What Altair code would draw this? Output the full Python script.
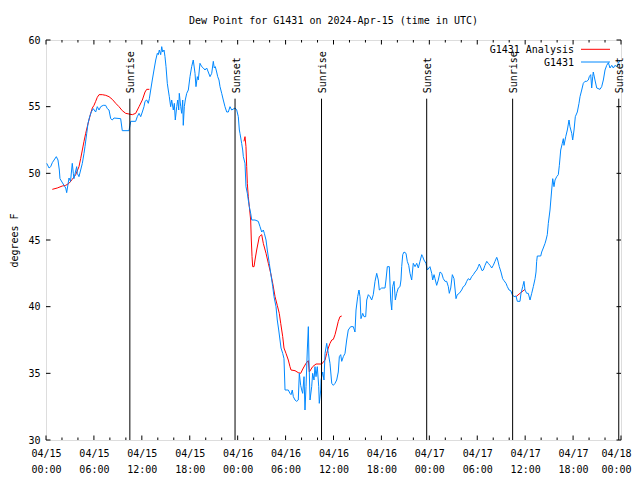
import altair as alt
import pandas as pd

# ---------------- data ----------------
blue_hours = [0.09, 0.38, 0.59, 0.79, 1.29, 1.50, 1.67, 1.75, 2.25, 2.47, 2.59, 2.88, 3.07, 3.29, 3.42, 3.50, 3.84, 3.92, 4.13, 4.34,
              4.55, 4.76, 4.88, 5.10, 5.26, 5.47, 5.67, 5.92, 6.22, 6.42, 6.64, 6.85, 7.17, 7.47, 7.68, 7.89, 8.10, 8.30, 8.51, 9.35,
              9.55, 10.39, 10.52, 10.61, 11.23, 11.43, 11.65, 11.86, 12.06, 12.27, 12.40, 12.61, 12.81, 12.94, 13.11, 13.31, 13.52, 13.74, 13.94, 14.06,
              14.19, 14.36, 14.49, 14.61, 14.78, 14.90, 15.03, 15.19, 15.31, 15.44, 15.61, 15.74, 15.94, 16.07, 16.19, 16.37, 16.49, 16.62, 16.69, 16.87,
              16.99, 17.12, 17.19, 17.32, 17.44, 17.62, 17.82, 18.03, 18.24, 18.44, 18.66, 18.78, 18.95, 19.07, 19.28, 19.50, 19.70, 19.91, 20.12, 20.32,
              20.54, 20.75, 20.95, 21.07, 21.20, 21.37, 21.50, 21.66, 21.79, 22.00, 22.20, 22.41, 22.63, 22.83, 23.04, 23.25, 23.67, 23.88, 24.08, 24.21,
              24.29, 24.50, 24.63, 24.71, 24.92, 25.04, 25.21, 25.33, 25.46, 25.63, 25.76, 26.17, 26.58, 26.80, 27.01, 27.21, 27.34, 27.55, 27.71, 27.96,
              28.14, 28.39, 28.55, 28.80, 28.96, 29.14, 29.30, 29.43, 29.64, 29.80, 29.93, 30.34, 30.55, 30.68, 30.84, 30.97, 31.18, 31.39, 31.59, 31.72,
              31.89, 32.02, 32.14, 32.31, 32.43, 32.56, 32.72, 32.85, 32.93, 33.06, 33.27, 33.39, 33.56, 33.68, 33.81, 33.97, 34.15, 34.22, 34.40, 34.44,
              34.65, 34.81, 34.94, 35.15, 35.35, 35.56, 35.78, 35.98, 36.19, 36.40, 36.60, 36.73, 36.90, 37.03, 37.23, 37.44, 37.65, 37.85, 38.15, 38.48,
              38.69, 38.82, 39.03, 39.19, 39.32, 39.44, 39.66, 39.82, 40.03, 40.16, 40.36, 40.57, 40.78, 40.98, 41.20, 41.41, 41.61, 41.74, 42.03, 42.45,
              42.57, 42.74, 42.99, 43.16, 43.29, 43.41, 43.58, 43.74, 43.91, 44.11, 44.33, 44.45, 44.54, 44.67, 44.83, 45.08, 45.24, 45.42, 45.58, 45.79,
              45.99, 46.21, 46.42, 46.62, 46.83, 47.05, 47.17, 47.33, 47.58, 47.75, 48.08, 48.30, 48.42, 48.59, 48.71, 48.92, 49.12, 49.34, 49.55, 49.75,
              49.96, 50.17, 50.38, 50.50, 50.68, 50.88, 51.09, 51.34, 51.50, 51.75, 52.05, 52.25, 52.47, 52.68, 52.88, 53.09, 53.30, 53.51, 53.72, 53.93,
              54.13, 54.26, 54.47, 54.60, 54.76, 54.97, 55.19, 55.38, 55.60, 55.81, 56.01, 56.22, 56.44, 56.56, 56.76, 56.97, 57.18, 57.35, 57.60, 57.77,
              57.98, 58.19, 58.39, 58.60, 58.85, 59.02, 59.35, 59.48, 59.69, 59.85, 59.98, 60.19, 60.39, 60.61, 60.82, 61.02, 61.24, 61.36, 61.44, 61.52,
              61.95, 62.07, 62.27, 62.49, 62.61, 62.77, 62.90, 63.11, 63.32, 63.45, 63.61, 63.74, 63.95, 64.15, 64.28, 64.45, 64.65, 64.78, 64.86, 65.08,
              65.28, 65.49, 65.61, 65.83, 65.95, 66.12, 66.28, 66.53, 66.74, 66.87, 67.08, 67.28, 67.49, 67.70, 67.91, 68.03, 68.21, 68.33, 68.46, 68.53,
              68.74, 68.96, 69.37, 69.58, 69.79, 70.00, 70.21, 70.42, 70.62, 70.84, 71.04, 71.25, 71.46, 71.66, 71.88]
blue_values = [50.75, 50.4, 50.5, 50.8, 51.25, 51.0, 50.25, 49.6, 49.1, 48.9, 48.55, 49.65, 49.4, 50.75, 50.0, 49.6, 50.5, 50.0, 49.75, 50.25,
               50.75, 51.5, 52.0, 53.0, 53.75, 54.25, 54.6, 54.85, 54.6, 55.0, 54.75, 55.0, 55.1, 55.1, 54.85, 54.75, 54.1, 54.0, 54.15, 54.1,
               53.2, 53.2, 53.6, 53.9, 53.9, 54.25, 54.5, 54.25, 54.6, 55.0, 55.4, 55.5, 55.25, 55.6, 56.25, 57.0, 57.75, 58.5, 59.0, 58.9,
               59.25, 58.9, 59.5, 59.1, 59.25, 58.75, 58.0, 56.75, 56.25, 55.75, 55.0, 55.5, 54.75, 55.25, 54.0, 55.0, 55.5, 54.75, 56.0, 55.0,
               54.5, 55.5, 53.6, 55.0, 55.5, 56.0, 56.25, 57.25, 58.0, 58.5, 57.5, 56.5, 57.25, 57.0, 58.25, 58.0, 57.9, 57.75, 57.9, 57.6,
               57.25, 57.5, 58.4, 57.9, 58.0, 57.6, 57.25, 57.0, 56.5, 56.0, 55.5, 55.0, 54.6, 54.6, 55.0, 54.75, 54.9, 54.75, 54.25, 53.25,
               53.0, 52.25, 51.75, 51.25, 50.75, 49.0, 48.5, 48.0, 47.5, 47.0, 46.5, 46.5, 46.4, 46.0, 45.6, 45.75, 45.5, 45.0, 44.25, 43.25,
               42.5, 41.5, 40.75, 40.0, 39.0, 38.25, 37.5, 36.9, 36.5, 36.1, 33.75, 33.75, 33.5, 33.4, 33.75, 33.25, 33.0, 32.9, 33.0, 35.0,
               34.1, 33.75, 33.5, 34.75, 32.25, 34.0, 36.75, 38.5, 36.0, 33.0, 34.0, 35.0, 34.5, 35.5, 34.75, 35.5, 34.0, 32.75, 33.75, 34.5,
               35.1, 34.5, 36.5, 37.25, 36.5, 35.75, 34.25, 34.1, 34.25, 34.5, 35.1, 36.25, 36.4, 35.9, 36.25, 36.5, 37.5, 38.25, 38.5, 38.5,
               38.1, 39.75, 40.75, 41.25, 40.75, 39.1, 39.5, 39.25, 39.25, 40.5, 40.9, 40.75, 40.5, 40.9, 41.9, 42.5, 42.0, 41.25, 41.4, 41.4,
               42.0, 43.0, 43.0, 40.5, 39.75, 41.5, 41.9, 40.5, 41.0, 41.4, 41.5, 42.0, 43.0, 43.9, 44.1, 44.0, 43.4, 43.1, 42.5, 42.0,
               43.25, 43.0, 43.25, 42.9, 43.4, 43.9, 43.75, 43.5, 43.25, 42.75, 43.0, 42.5, 42.0, 42.4, 42.1, 41.6, 42.0, 42.6, 42.5, 42.1,
               41.9, 41.9, 41.5, 41.0, 41.4, 42.4, 42.1, 40.6, 40.9, 41.0, 41.25, 41.5, 41.6, 41.9, 42.1, 42.0, 42.25, 42.4, 42.6, 42.75,
               43.0, 43.2, 42.9, 42.7, 42.75, 43.1, 43.4, 43.25, 43.1, 42.9, 43.1, 43.4, 43.7, 43.5, 43.0, 42.6, 42.1, 41.95, 41.75, 41.5,
               41.25, 41.2, 40.9, 40.75, 40.8, 40.4, 40.4, 41.0, 41.5, 41.9, 41.25, 41.0, 41.0, 40.5, 41.0, 41.5, 42.1, 42.6, 43.4, 43.8,
               43.8, 44.1, 44.4, 44.75, 45.0, 45.4, 46.25, 47.25, 48.75, 49.6, 49.0, 49.5, 49.75, 49.9, 50.6, 51.75, 52.25, 52.6, 52.1, 52.75,
               53.25, 54.0, 53.5, 53.0, 52.5, 53.25, 54.25, 54.6, 55.25, 55.75, 56.25, 56.75, 56.9, 56.9, 57.0, 57.25, 57.4, 56.4, 57.25, 57.6,
               57.0, 56.4, 56.3, 56.5, 57.0, 57.75, 58.1, 58.3, 57.9, 58.1, 57.9, 58.1, 58.0, 58.25, 58.5]

red_hours = [0.79, 1.41, 2.04, 2.47, 2.88, 3.29, 3.72, 4.13, 4.34, 4.55, 4.76, 4.97, 5.17, 5.38, 5.60, 5.80, 6.01, 6.22, 6.42, 6.64,
             7.05, 7.48, 7.89, 8.30, 8.73, 9.14, 9.55, 9.98, 10.39, 10.81, 11.23, 11.65, 12.06, 12.40, 12.61, 12.94,
             24.79, 24.92, 25.04, 25.13, 25.21, 25.33, 25.46, 25.63, 25.71, 25.80, 25.88, 26.05, 26.17, 26.38, 26.71, 27.01, 27.21, 27.55, 27.84, 28.14,
             28.39, 28.68, 28.96, 29.21, 29.39, 29.64, 29.80, 30.05, 30.34, 30.55, 30.68, 31.18, 31.59, 31.89, 32.22, 32.56, 32.85, 32.97, 33.39, 33.81,
             34.52, 34.94, 35.15, 35.35, 35.56, 35.78, 35.98, 36.19, 36.40, 36.60, 36.81, 37.03,
             58.85, 59.35, 59.98]
red_values = [48.8, 48.9, 49.05, 49.1, 49.25, 49.55, 49.9, 50.5, 51.1, 51.75, 52.4, 53.0, 53.5, 54.0, 54.5, 54.9, 55.1, 55.4, 55.7, 55.9,
              55.9, 55.85, 55.75, 55.55, 55.25, 55.0, 54.7, 54.5, 54.45, 54.4, 54.5, 55.0, 55.5, 56.1, 56.3, 56.3,
              52.4, 52.75, 52.0, 50.5, 49.25, 48.25, 47.5, 46.5, 45.0, 43.75, 43.0, 43.0, 43.5, 44.25, 45.25, 45.4, 44.75, 44.0, 43.25, 42.5,
              41.75, 40.75, 40.1, 39.5, 38.75, 37.75, 36.9, 36.5, 36.0, 35.5, 35.25, 35.2, 35.05, 35.0, 35.4, 35.75, 35.95, 35.1, 35.5, 35.7,
              35.7, 36.0, 36.5, 36.9, 37.25, 37.5, 37.55, 37.9, 38.4, 38.9, 39.25, 39.3,
              40.75, 41.0, 41.3]
red_segments = [1] * 36 + [2] * 52 + [3] * 3

event_hours = [10.50, 23.67, 34.50, 47.67, 58.43, 71.72]
event_labels = ["Sunrise", "Sunset", "Sunrise", "Sunset", "Sunrise", "Sunset"]
event_top = 55.6
event_label_pos = 56.0

x_major_ticks = list(range(0, 73, 6))
x_minor_ticks = [h for h in range(0, 73, 2) if h % 6 != 0]
y_ticks = [30, 35, 40, 45, 50, 55, 60]

series_names = ["G1431 Analysis", "G1431"]
series_colors = ["#ff0000", "#0088ff"]

# ---------------- chart ----------------
FONT = "DejaVu Sans Mono"
W, H = 575, 400

blue_df = pd.DataFrame({"hour": blue_hours, "value": blue_values})
red_df = pd.DataFrame({"hour": red_hours, "value": red_values, "seg": red_segments})
ev_df = pd.DataFrame({"hour": event_hours, "label": event_labels,
                      "top": [event_top] * len(event_hours), "bottom": [30] * len(event_hours),
                      "lpos": [event_label_pos] * len(event_hours)})
xmaj_df = pd.DataFrame({"hour": x_major_ticks})
xmin_df = pd.DataFrame({"hour": x_minor_ticks})
y_df = pd.DataFrame({"value": y_ticks})

x_scale = alt.Scale(domain=[0, 72], nice=False, zero=False)
y_scale = alt.Scale(domain=[30, 60], nice=False, zero=False)

x_axis = alt.Axis(
    values=x_major_ticks, ticks=False, domain=False, grid=False, title=None,
    labelExpr="['04/' + (15 + floor(datum.value / 24)), ((datum.value % 24) < 10 ? '0' : '') + (datum.value % 24) + ':00']",
    labelFont=FONT, labelFontSize=10, labelColor="black", labelPadding=8, labelLineHeight=16,
    labelFlush=False, labelOverlap=False, labelBound=False, labelBaseline="top",
    labelOffset={"condition": {"test": "datum.value == 72", "value": -5}, "value": 0},
)
y_axis = alt.Axis(
    values=y_ticks, ticks=False, domain=False, grid=False, title="degrees F",
    titleFont=FONT, titleFontSize=10, titleFontWeight="normal", titleColor="black", titlePadding=8,
    labelFont=FONT, labelFontSize=10, labelColor="black", labelPadding=6,
)

X = alt.X("hour:Q", scale=x_scale, axis=x_axis)
Y = alt.Y("value:Q", scale=y_scale, axis=y_axis)

red_line = alt.Chart(red_df).mark_line(strokeWidth=1, color=series_colors[0]).encode(
    x=X, y=Y, detail="seg:N", order="hour:Q")
blue_line = alt.Chart(blue_df).mark_line(strokeWidth=1, color=series_colors[1]).encode(
    x="hour:Q", y="value:Q", order="hour:Q")

ev_rules = alt.Chart(ev_df).mark_rule(color="black", strokeWidth=1).encode(
    x="hour:Q", y="top:Q", y2="bottom:Q")
ev_text = alt.Chart(ev_df).mark_text(angle=270, align="left", baseline="middle", font=FONT,
                                      fontSize=10, color="black", dy=1.5).encode(
    x="hour:Q", y="lpos:Q", text="label:N")

tick_major_b = alt.Chart(xmaj_df).mark_rule(color="black").encode(x="hour:Q", y=alt.value(H), y2=alt.value(H - 4.5))
tick_major_t = alt.Chart(xmaj_df).mark_rule(color="black").encode(x="hour:Q", y=alt.value(0), y2=alt.value(4.5))
tick_minor_b = alt.Chart(xmin_df).mark_rule(color="black").encode(x="hour:Q", y=alt.value(H), y2=alt.value(H - 2.5))
tick_minor_t = alt.Chart(xmin_df).mark_rule(color="black").encode(x="hour:Q", y=alt.value(0), y2=alt.value(2.5))
tick_y_l = alt.Chart(y_df).mark_rule(color="black").encode(y="value:Q", x=alt.value(0), x2=alt.value(4.5))
tick_y_r = alt.Chart(y_df).mark_rule(color="black").encode(y="value:Q", x=alt.value(W), x2=alt.value(W - 4.5))

one = pd.DataFrame({"k": [0]})
leg_items = []
for i, (name, col) in enumerate(zip(series_names, series_colors)):
    yy = 10 + 12.7 * i
    leg_items.append(alt.Chart(one).mark_text(align="right", baseline="middle", font=FONT, fontSize=10,
                                              color="black").encode(
        x=alt.value(528), y=alt.value(yy), text=alt.value(name)))
    leg_items.append(alt.Chart(one).mark_rule(color=col, strokeWidth=1).encode(
        x=alt.value(535), x2=alt.value(564), y=alt.value(yy - 0.7)))

chart = alt.layer(
    red_line, blue_line, ev_rules, ev_text,
    tick_major_b, tick_major_t, tick_minor_b, tick_minor_t, tick_y_l, tick_y_r,
    *leg_items,
).properties(
    width=W, height=H,
    title=alt.Title("Dew Point for G1431 on 2024-Apr-15 (time in UTC)", font=FONT, fontSize=10,
                    fontWeight="normal", color="black", anchor="middle", baseline="bottom", offset=-1),
    autosize=alt.AutoSizeParams(type="none"),
    padding={"left": 38, "top": 32, "right": 11, "bottom": 36},
).configure_view(stroke="black", strokeWidth=1, fill="white").configure(background="white")

chart.save("out.html", embed_options={"renderer": "svg", "actions": False})
